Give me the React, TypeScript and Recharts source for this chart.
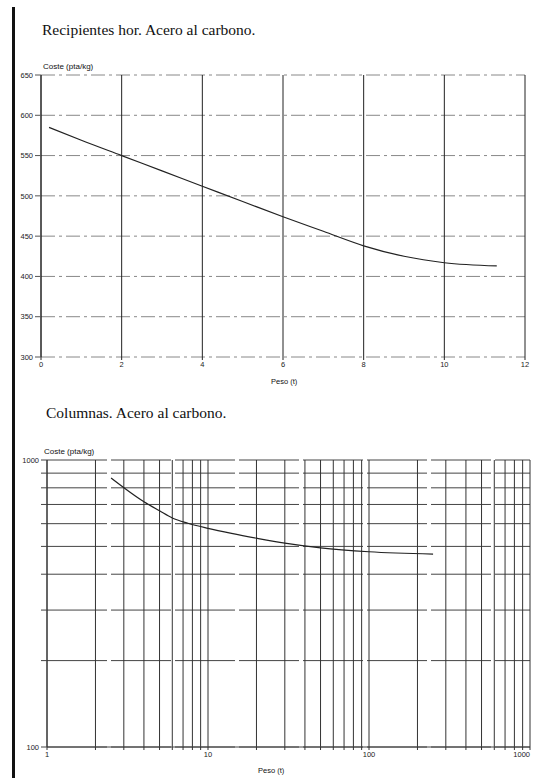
import { LineChart, Line, XAxis, YAxis, CartesianGrid } from "recharts";

// Recipientes horizontales - acero al carbono
const recipientesPeso = [0.2, 1, 2, 3, 4, 5, 6, 7, 8, 9, 10, 11.3];
const recipientesCoste = [585, 569, 550, 531, 512, 493, 474, 456, 438, 425, 417, 413];
const recipientesXTicks = [0, 2, 4, 6, 8, 10, 12];
const recipientesYTicks = [300, 350, 400, 450, 500, 550, 600, 650];

// Columnas - acero al carbono (log-log)
const columnasPeso = [2.5, 4, 5, 6, 7.5, 10, 14, 20, 30, 50, 100, 250];
const columnasCoste = [865, 715, 665, 628, 602, 578, 555, 534, 513, 494, 479, 470];
const columnasXTicks = [
  1, 2, 3, 4, 5, 6, 7, 8, 9, 10, 20, 30, 40, 50, 60, 70, 80, 90, 100, 200, 300,
  400, 500, 600, 700, 800, 900, 1000,
];
const columnasYTicks = [100, 200, 300, 400, 500, 600, 700, 800, 900, 1000];
const decadas = [1, 10, 100, 1000];

const recipientesData = recipientesPeso.map((peso, i) => ({
  peso,
  coste: recipientesCoste[i],
}));
const columnasData = columnasPeso.map((peso, i) => ({
  peso,
  coste: columnasCoste[i],
}));

const sans = "'Liberation Sans', Arial, sans-serif";
const serif = "'Liberation Serif', 'Times New Roman', serif";
const tickStyle = { fontSize: 7.5, fill: "#222", fontFamily: sans };

function Text({
  left,
  top,
  size,
  font,
  children,
}: {
  left: number;
  top: number;
  size: number;
  font: string;
  children: string;
}) {
  return (
    <div
      style={{
        position: "absolute",
        left,
        top,
        fontSize: size,
        lineHeight: `${Math.round(size * 1.2)}px`,
        fontFamily: font,
        color: "#111",
        whiteSpace: "nowrap",
      }}
    >
      {children}
    </div>
  );
}

// only decade labels on the log axis; the last one is pulled inside the frame
function LogXTick(props: any) {
  const { x, y, payload } = props;
  const v = payload.value;
  if (!decadas.includes(v)) return null;
  return (
    <text
      x={x}
      y={y}
      dy="0.71em"
      textAnchor={v === 1000 ? "end" : "middle"}
      {...tickStyle}
    >
      {String(v)}
    </text>
  );
}

export default function App() {
  return (
    <div
      style={{
        position: "fixed",
        left: 0,
        top: 0,
        width: 536,
        height: 778,
        background: "#fff",
        overflow: "hidden",
      }}
    >
      <div
        style={{
          position: "absolute",
          left: 12,
          top: 7,
          width: 3,
          height: 771,
          background: "#111",
        }}
      />

      <Text left={42} top={20} size={15.5} font={serif}>
        Recipientes hor. Acero al carbono.
      </Text>
      <Text left={43} top={62} size={8} font={sans}>
        Coste (pta/kg)
      </Text>
      <Text left={271} top={377} size={7.5} font={sans}>
        Peso (t)
      </Text>

      <div style={{ position: "absolute", left: 0, top: 0 }}>
        <LineChart
          width={536}
          height={400}
          data={recipientesData}
          margin={{ top: 75, right: 11, left: 0, bottom: 0 }}
        >
          <CartesianGrid
            vertical={false}
            stroke="#888"
            strokeDasharray="14 4 3 4"
          />
          <CartesianGrid horizontal={false} stroke="#222" />
          <XAxis
            dataKey="peso"
            type="number"
            domain={[0, 12]}
            ticks={recipientesXTicks}
            interval={0}
            height={43}
            axisLine={false}
            tickSize={3}
            tickLine={{ stroke: "#222" }}
            tick={tickStyle}
          />
          <YAxis
            type="number"
            domain={[300, 650]}
            ticks={recipientesYTicks}
            interval={0}
            width={41}
            axisLine={{ stroke: "#222" }}
            tickSize={6}
            tickLine={{ stroke: "#555" }}
            tick={tickStyle}
          />
          <Line
            dataKey="coste"
            type="monotone"
            stroke="#222"
            strokeWidth={1.2}
            dot={false}
            isAnimationActive={false}
          />
        </LineChart>
      </div>

      <Text left={46} top={403} size={15.5} font={serif}>
        Columnas. Acero al carbono.
      </Text>
      <Text left={44} top={447} size={8} font={sans}>
        Coste (pta/kg)
      </Text>
      <Text left={258} top={766} size={7.5} font={sans}>
        Peso (t)
      </Text>

      <div style={{ position: "absolute", left: 0, top: 400 }}>
        <LineChart
          width={536}
          height={378}
          data={columnasData}
          margin={{ top: 60, right: 6, left: 0, bottom: 0 }}
        >
          <CartesianGrid vertical={false} stroke="#444" strokeDasharray="60 4" />
          <CartesianGrid horizontal={false} stroke="#333" />
          <XAxis
            dataKey="peso"
            type="number"
            scale="log"
            domain={[1, 1000]}
            ticks={columnasXTicks}
            interval={0}
            height={31}
            axisLine={{ stroke: "#444" }}
            tickSize={3}
            tickLine={{ stroke: "#333" }}
            tick={<LogXTick />}
          />
          <YAxis
            type="number"
            scale="log"
            domain={[100, 1000]}
            ticks={columnasYTicks}
            interval={0}
            width={47}
            axisLine={{ stroke: "#333" }}
            tickSize={6}
            tickLine={{ stroke: "#444" }}
            tick={tickStyle}
            tickFormatter={(v: number) => (decadas.includes(v) ? String(v) : "")}
          />
          <Line
            dataKey="coste"
            type="monotone"
            stroke="#222"
            strokeWidth={1.2}
            dot={false}
            isAnimationActive={false}
          />
        </LineChart>
      </div>
    </div>
  );
}
